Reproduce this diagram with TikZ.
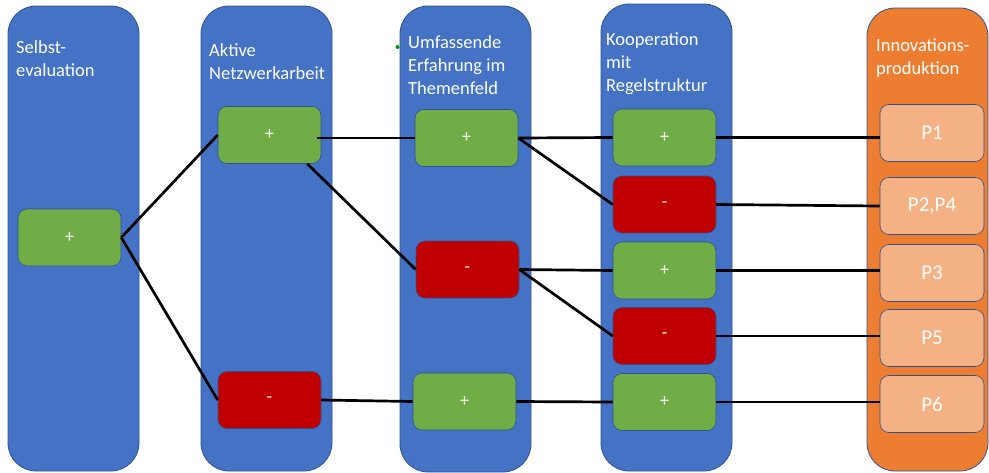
\documentclass[tikz,border=0pt]{standalone}
\usepackage{fontspec}
\setmainfont{Carlito}
\definecolor{colblue}{HTML}{4472C4}
\definecolor{edgeblue}{HTML}{2F528F}
\definecolor{boxgreen}{HTML}{70AD47}
\definecolor{boxred}{HTML}{C00000}
\definecolor{colorange}{HTML}{ED7D31}
\definecolor{boxpeach}{HTML}{F4B183}
\begin{document}
\begin{tikzpicture}[x=1pt,y=-1pt,
  column/.style={draw=edgeblue,line width=0.8pt,rounded corners=28pt,minimum width=131pt,inner sep=0pt},
  bluecol/.style={column,fill=colblue},
  orangecol/.style={column,fill=colorange,minimum width=121pt},
  lab/.style={anchor=north west,align=left,text=white,inner sep=0pt,font=\fontsize{18.5}{23}\selectfont},
  cell/.style={draw=edgeblue,line width=0.6pt,rounded corners=9pt,minimum width=103pt,minimum height=57pt,inner sep=0pt,text=white,font=\fontsize{18}{20}\selectfont},
  poscell/.style={cell,fill=boxgreen},
  negcell/.style={cell,fill=boxred},
  outcell/.style={cell,fill=boxpeach,minimum width=104pt,font=\fontsize{21}{23}\selectfont},
  link/.style={line width=2.7pt,black}]
\useasboundingbox (0,0) rectangle (989,472);
% columns
\node[bluecol,minimum height=465pt] (col1) at (73.5,238.5) {};
\node[bluecol,minimum height=465pt] (col2) at (266.5,238.5) {};
\node[bluecol,minimum height=466pt] (col3) at (465.5,239) {};
\node[bluecol,minimum height=467pt] (col4) at (666.5,237.5) {};
\node[orangecol,minimum height=463pt] (col5) at (927.5,239.5) {};
% labels
\node[lab] (l1) at (16,40) {Selbst-\\evaluation};
\node[lab] (l2) at (209,43) {Aktive\\Netzwerkarbeit};
\node[lab] (l3) at (408,35) {Umfassende\\Erfahrung im\\Themenfeld};
\node[lab] (l4) at (606,33) {Kooperation\\mit\\Regelstruktur};
\node[lab] (l5) at (876,39) {Innovations-\\produktion};
\fill[green!60!black] (397.5,47) circle (2pt);
% cells
\node[poscell] (s1) at (69.5,237.5) {+};
\node[poscell] (a1) at (269.5,135) {+};
\node[negcell] (a2) at (269.5,400) {-};
\node[poscell] (u1) at (466.5,138) {+};
\node[negcell] (u2) at (467.5,269.5) {-};
\node[poscell] (u3) at (464.5,401.5) {+};
\node[poscell] (k1) at (664.5,137.5) {+};
\node[negcell] (k2) at (664.5,204.5) {-};
\node[poscell] (k3) at (664.5,270.5) {+};
\node[negcell] (k4) at (664.5,336) {-};
\node[poscell] (k5) at (664.5,402) {+};
\node[outcell] (p1) at (932,133) {P1};
\node[outcell] (p2) at (932,206) {P2,P4};
\node[outcell] (p3) at (932,273) {P3};
\node[outcell] (p5) at (932,338) {P5};
\node[outcell] (p6) at (932,404) {P6};
% connectors
\draw[link] (s1.east) -- (a1.west);
\draw[link] (s1.east) -- (a2.west);
\draw[link] ([xshift=-4pt]a1.east |- u1.west) -- (u1.west);
\draw[link] ([xshift=-14pt]a1.south east) -- (u2.west);
\draw[link] (a2.east) -- (u3.west);
\draw[link] (u1.east) -- (k1.west);
\draw[link] (u1.east) -- (k2.west);
\draw[link] (u2.east) -- (k3.west);
\draw[link] (u2.east) -- (k4.west);
\draw[link] (u3.east) -- (k5.west);
\draw[link] (k1.east) -- (p1.west |- k1.east);
\draw[link] (k2.east) -- (p2.west);
\draw[link] (k3.east) -- (p3.west |- k3.east);
\draw[link] (k4.east) -- (p5.west |- k4.east);
\draw[link] (k5.east) -- (p6.west |- k5.east);
\end{tikzpicture}
\end{document}
